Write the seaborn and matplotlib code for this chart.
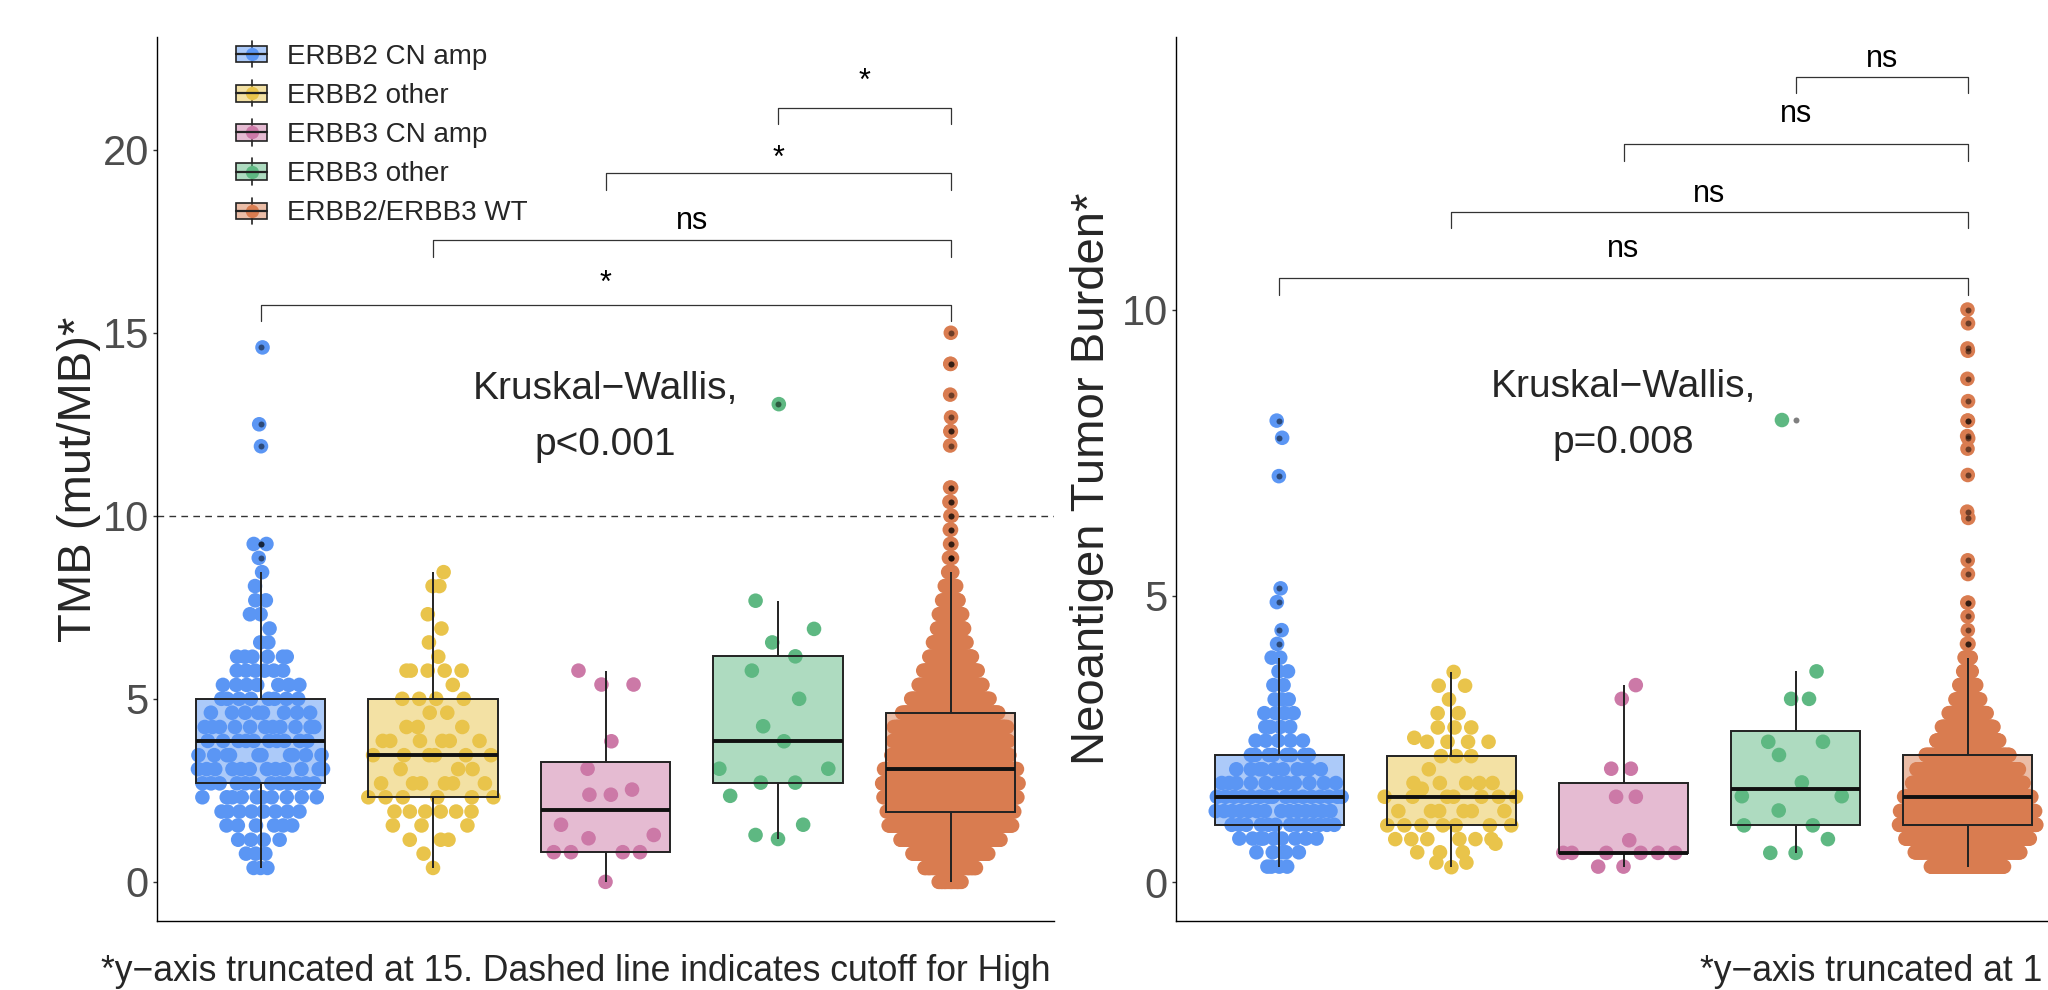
import numpy as np
import pandas as pd
import seaborn as sns
import matplotlib.pyplot as plt
from matplotlib.patches import Patch, Rectangle
from matplotlib.lines import Line2D
from matplotlib.legend_handler import HandlerBase

sns.set_theme(style='white')
plt.rcParams['font.family'] = ['Liberation Sans', 'DejaVu Sans']

groups = ['ERBB2 CN amp', 'ERBB2 other', 'ERBB3 CN amp', 'ERBB3 other', 'ERBB2/ERBB3 WT']
colors = ['#5B96F4', '#E9C44B', '#CC79A7', '#5EB882', '#D97C50']
pal = dict(zip(groups, colors))

# ---- TMB panel (values sit on rows, counts read per row) ----
tmb_levels = [0.00, 0.38, 0.77, 1.15, 1.54, 1.92, 2.31, 2.69, 3.08, 3.46, 3.85, 4.23,
              4.62, 5.00, 5.38, 5.77, 6.15, 6.54, 6.92, 7.31, 7.69, 8.08, 8.46]
tmb_amp2_counts = [0, 3, 3, 4, 6, 8, 10, 12, 12, 10, 10, 11, 8, 8, 7, 6, 6, 2, 1, 2, 2, 1, 1]
tmb_amp2_high = [8.85, 9.23, 9.23, 11.90, 12.50, 14.60]
tmb_other2_counts = [0, 1, 1, 3, 3, 6, 6, 6, 3, 6, 6, 3, 2, 4, 1, 5, 1, 1, 1, 1, 0, 2, 1]
tmb_amp3 = [5.77, 5.39, 5.39, 3.84, 3.09, 2.52, 2.38, 2.38, 1.56, 1.28, 1.19,
            0.81, 0.81, 0.81, 0.81, 0.00]
tmb_other3 = [13.05, 7.68, 6.91, 6.54, 6.16, 5.77, 5.00, 4.25, 3.84, 3.09, 3.09,
              2.71, 2.71, 2.35, 1.56, 1.28, 1.17]
tmb_wt_counts = [20, 45, 63, 86, 106, 107, 112, 116, 113, 99, 97, 96, 83, 64, 54, 46,
                 36, 30, 23, 20, 15, 10, 5]
tmb_wt_high = [8.85, 8.85, 8.85, 9.23, 9.23, 9.62, 9.62, 10.00, 10.00, 10.38, 10.38,
               10.77, 10.77, 11.92, 12.31, 12.31, 12.69, 13.31, 14.15, 14.15, 15.00]

# ---- Neoantigen panel ----
neo_levels = [0.27, 0.52, 0.76, 1.00, 1.24, 1.49, 1.73, 1.97, 2.22, 2.47, 2.71, 2.95,
              3.19, 3.44, 3.68, 3.92]
neo_amp2_counts = [4, 5, 9, 13, 14, 16, 12, 10, 8, 5, 4, 4, 3, 2, 2, 2]
neo_amp2_high = [4.16, 4.40, 4.89, 5.13, 7.09, 7.76, 8.06]
neo_other2 = [3.67, 3.43, 3.43, 3.19, 2.95, 2.95, 2.70, 2.70, 2.70, 2.52,
              2.45, 2.45, 2.45, 2.45, 2.20, 2.20, 2.20, 1.97,
              1.73, 1.73, 1.73, 1.73, 1.73, 1.63,
              1.49, 1.49, 1.49, 1.49, 1.49, 1.49, 1.49,
              1.24, 1.24, 1.24, 1.24, 1.24, 1.24,
              0.99, 0.99, 0.99, 0.99, 0.99, 0.99, 0.99,
              0.75, 0.75, 0.75, 0.75, 0.75, 0.75, 0.67,
              0.52, 0.52, 0.52, 0.34, 0.34, 0.26]
neo_amp3 = [3.44, 3.20, 1.98, 1.98, 1.49, 1.49, 0.73, 0.51, 0.51, 0.51, 0.51, 0.51,
            0.51, 0.27, 0.27]
neo_other3 = [8.07, 3.68, 3.20, 3.20, 2.45, 2.45, 2.22, 1.74, 1.50, 1.50, 1.25, 0.99,
              0.99, 0.75, 0.51, 0.51]
neo_wt_counts = [90, 125, 145, 160, 160, 150, 130, 120, 100, 75, 60, 45, 30, 20, 12, 8]
neo_wt_high = [4.16, 4.16, 4.40, 4.64, 4.88, 4.88, 5.38, 5.62, 6.36, 6.47, 7.11, 7.57,
               7.75, 7.79, 8.06, 8.06, 8.40, 8.79, 9.28, 9.32, 9.76, 10.00]

tmb_samples = [
    list(np.repeat(tmb_levels, tmb_amp2_counts)) + tmb_amp2_high,
    list(np.repeat(tmb_levels, tmb_other2_counts)),
    tmb_amp3,
    tmb_other3,
    list(np.repeat(tmb_levels, tmb_wt_counts)) + tmb_wt_high,
]
neo_samples = [
    list(np.repeat(neo_levels, neo_amp2_counts)) + neo_amp2_high,
    neo_other2,
    neo_amp3,
    neo_other3,
    list(np.repeat(neo_levels, neo_wt_counts)) + neo_wt_high,
]

# pairwise comparison brackets (group i vs WT)
pairs = [(0, 4), (1, 4), (2, 4), (3, 4)]
tmb_bar = [15.76, 17.53, 19.36, 21.14]
tmb_sig = ['*', 'ns', '*', '*']
tmb_sig_y = [16.12, 17.83, 19.53, 21.64]
neo_bar = [10.55, 11.71, 12.89, 14.07]
neo_sig = ['ns', 'ns', 'ns', 'ns']
neo_sig_y = [10.92, 11.88, 13.27, 14.24]


def vdc(n):
    out = []
    for i in range(1, n + 1):
        v, denom, k = 0.0, 1.0, i
        while k:
            denom *= 2
            v += (k % 2) / denom
            k //= 2
        out.append(v)
    return np.array(out)


def quasi_offsets(y, width=0.4, adjust=0.5):
    # quasirandom layout: van der Corput order, spread scaled by density
    y = np.asarray(y, float)
    n = len(y)
    q75, q25 = np.percentile(y, [75, 25])
    sd = y.std(ddof=1)
    lo = min(sd, (q75 - q25) / 1.34) or sd
    bw = 0.9 * lo * n ** -0.2 * adjust
    dens = np.exp(-0.5 * ((y[:, None] - y[None, :]) / bw) ** 2).sum(1)
    rank = np.argsort(np.argsort(y, kind='stable'), kind='stable')
    off = vdc(n)[rank]
    return (off - 0.5) * 2 * width * dens / dens.max()


def draw_panel(ax, samples, ylim, yticks):
    frames = []
    for i, (g, vals) in enumerate(zip(groups, samples)):
        vals = np.asarray(vals, float)
        frames.append(pd.DataFrame({'group': g, 'value': vals,
                                    'xpos': i + quasi_offsets(vals)}))
    df = pd.concat(frames, ignore_index=True)
    sns.boxplot(data=df, x='group', y='value', hue='group', order=groups,
                hue_order=groups, palette=pal, saturation=1, width=0.75,
                linewidth=1.4, linecolor='#222222', showcaps=False, fliersize=4.3,
                flierprops=dict(marker='o', markerfacecolor='black',
                                markeredgecolor='none', markersize=4.3, alpha=0.5),
                medianprops=dict(color='#111111', linewidth=2.8),
                whiskerprops=dict(color='#222222', linewidth=1.4),
                legend=False, ax=ax)
    for p in ax.patches:
        r, g_, b, _ = p.get_facecolor()
        p.set_facecolor((r, g_, b, 0.5))
    sns.scatterplot(data=df, x='xpos', y='value', hue='group', hue_order=groups,
                    palette=pal, s=110, linewidth=0, legend=False, ax=ax, zorder=0.9)
    ax.set_xlim(-0.6, 4.6)
    ax.set_ylim(*ylim)
    ax.set_yticks(yticks)
    ax.set_xticks([])
    ax.set_xlabel('')
    ax.set_ylabel('')
    sns.despine(ax=ax)
    for s in ['left', 'bottom']:
        ax.spines[s].set_linewidth(1.0)
        ax.spines[s].set_color('black')
    ax.tick_params(axis='y', length=2.9, width=1.0, color='#333333', pad=3,
                   labelsize=30, labelcolor='#4D4D4D', left=True)


def draw_brackets(ax, bars, tip, labels, label_y):
    for (a, b), yb, lab, yl in zip(pairs, bars, labels, label_y):
        ax.plot([a, a, b, b], [yb - tip, yb, yb, yb - tip], color='#333333',
                lw=0.9, clip_on=False, zorder=3)
        ax.text((a + b) / 2, yl, lab, ha='center', va='baseline', fontsize=22,
                color='black')


class BoxKey(HandlerBase):
    def create_artists(self, legend, orig_handle, xdescent, ydescent, width,
                       height, fontsize, trans):
        c = orig_handle.get_facecolor()
        x0, y0 = -xdescent, -ydescent
        cx, cy = x0 + width / 2, y0 + height / 2
        bh = height * 0.63
        whisk = Line2D([cx, cx], [y0, y0 + height], color='#222222', lw=1.2,
                       transform=trans)
        dot = Line2D([cx], [cy], marker='o', ms=9.5, mfc=c[:3], mec='none',
                     ls='none', transform=trans)
        box = Rectangle((x0, cy - bh / 2), width, bh, facecolor=(*c[:3], 0.5),
                        edgecolor='#222222', lw=1.2, transform=trans)
        med = Line2D([x0, x0 + width], [cy, cy], color='#222222', lw=1.6,
                     transform=trans)
        return [whisk, dot, box, med]


W, H = 2048, 990
fig = plt.figure(figsize=(W / 100, H / 100), dpi=100)
ax1 = fig.add_axes([157 / W, 69 / H, 897 / W, 884 / H])
ax2 = fig.add_axes([1176 / W, 69 / H, 895 / W, 884 / H])

draw_panel(ax1, tmb_samples, (-1.07, 23.08), [0, 5, 10, 15, 20])
ax1.axhline(10, color='#333333', lw=1.0, dashes=(4.8, 3.8), zorder=0.8)
draw_brackets(ax1, tmb_bar, 0.45, tmb_sig, tmb_sig_y)
ax1.text(2, 13.19, 'Kruskal\u2212Wallis,', ha='center', va='baseline', fontsize=28)
ax1.text(2, 11.67, 'p<0.001', ha='center', va='baseline', fontsize=28)

draw_panel(ax2, neo_samples, (-0.68, 14.76), [0, 5, 10])
draw_brackets(ax2, neo_bar, 0.29, neo_sig, neo_sig_y)
ax2.text(2, 8.48, 'Kruskal\u2212Wallis,', ha='center', va='baseline', fontsize=28)
ax2.text(2, 7.50, 'p=0.008', ha='center', va='baseline', fontsize=28)

handles = [Patch(facecolor=c) for c in colors]
ax1.legend(handles, groups, handler_map={Patch: BoxKey()}, loc='upper left',
           bbox_to_anchor=(0.0881, 0.9955), frameon=False, fontsize=20,
           handlelength=1.115, handleheight=1.08, handletextpad=0.71,
           labelspacing=0.38, borderpad=0, borderaxespad=0)

# axis titles
fig.text(91 / W, 1 - 479 / H, 'TMB (mut/MB)*', rotation=90, rotation_mode='anchor',
         ha='center', va='baseline', fontsize=34)
fig.text(1104 / W, 1 - 479 / H, 'Neoantigen Tumor Burden*', rotation=90,
         rotation_mode='anchor', ha='center', va='baseline', fontsize=34)

# captions
fig.text(101 / W, 9 / H,
         '*y\u2212axis truncated at 15. Dashed line indicates cutoff for High',
         ha='left', va='baseline', fontsize=25.6)
fig.text(1700 / W, 9 / H, '*y\u2212axis truncated at 1', ha='left', va='baseline',
         fontsize=25.6)

fig.savefig('out.png', dpi=100)
